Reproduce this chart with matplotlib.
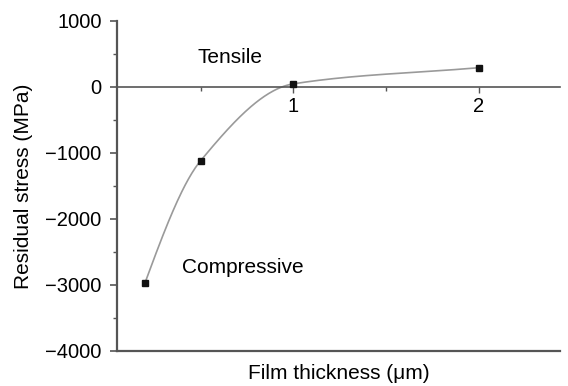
import numpy as np
import matplotlib.pyplot as plt
from matplotlib.ticker import MultipleLocator, FixedLocator

plt.rcParams['font.family'] = ['Liberation Sans', 'DejaVu Sans']

# film thickness (um) vs residual stress (MPa)
thickness = [0.2, 0.5, 1.0, 2.0]
stress = [-2970, -1120, 45, 290]


def end_slope(h0, h1, d0, d1):
    # three-point end slope, falling back to the secant if it flips sign
    s = ((2 * h0 + h1) * d0 - h0 * d1) / (h0 + h1)
    return s if s * d0 > 0 else d0


def smooth_curve(x, y, n=300):
    # cubic Hermite through the measured points, harmonic-mean tangents
    x = np.asarray(x, float)
    y = np.asarray(y, float)
    h = np.diff(x)
    d = np.diff(y) / h
    m = np.empty_like(x)
    m[1:-1] = 2 / (1 / d[:-1] + 1 / d[1:])
    m[0] = end_slope(h[0], h[1], d[0], d[1])
    m[-1] = end_slope(h[-1], h[-2], d[-1], d[-2])
    xs = np.linspace(x[0], x[-1], n)
    k = np.clip(np.searchsorted(x, xs) - 1, 0, len(x) - 2)
    t = (xs - x[k]) / h[k]
    h00 = 2 * t**3 - 3 * t**2 + 1
    h10 = t**3 - 2 * t**2 + t
    h01 = -2 * t**3 + 3 * t**2
    h11 = t**3 - t**2
    ys = h00 * y[k] + h10 * h[k] * m[k] + h01 * y[k + 1] + h11 * h[k] * m[k + 1]
    return xs, ys


fig = plt.figure(figsize=(5.68, 3.86), dpi=100)
ax = fig.add_axes([0.206, 0.091, 0.78, 0.855])

xs, ys = smooth_curve(thickness, stress)
ax.plot(xs, ys, color='#9a9a9a', lw=1.2, zorder=2)
ax.plot(thickness, stress, 's', color='#111111', ms=5, zorder=3)

ax.set_xlim(0.049, 2.44)
ax.set_ylim(-4000, 1000)

# x axis runs along zero stress, frame line at the bottom
ax.spines['top'].set_visible(False)
ax.spines['right'].set_visible(False)
ax.spines['bottom'].set_position(('data', 0))
ax.spines['bottom'].set_color('#555555')
ax.spines['left'].set_color('#555555')
ax.spines['left'].set_linewidth(1.6)
ax.spines['bottom'].set_linewidth(1.2)
ax.axhline(-4000, color='#555555', lw=1.6, clip_on=False, zorder=4)

ax.xaxis.set_major_locator(FixedLocator([1, 2]))
ax.xaxis.set_minor_locator(FixedLocator([0.5, 1.5]))
ax.tick_params(axis='x', which='major', direction='out', length=4, width=1,
               color='#555555', labelsize=14.5, pad=3)
ax.tick_params(axis='x', which='minor', direction='out', length=3, width=1,
               color='#555555')

ax.yaxis.set_major_locator(MultipleLocator(1000))
ax.yaxis.set_minor_locator(MultipleLocator(500))
ax.tick_params(axis='y', which='major', direction='out', length=5, width=1.2,
               color='#555555', labelsize=14.5, pad=6)
ax.tick_params(axis='y', which='minor', direction='out', length=3, width=1,
               color='#555555')
ax.yaxis.set_major_formatter(plt.FuncFormatter(
    lambda v, p: f'{int(v)}'.replace('-', '\u2212')))

ax.set_ylabel('Residual stress (MPa)', fontsize=15, labelpad=9)
ax.text(0.5, -0.07, 'Film thickness (\u03bcm)', transform=ax.transAxes,
        ha='center', va='center', fontsize=15)

ax.text(0.66, 450, 'Tensile', ha='center', va='center', fontsize=15)
ax.text(0.73, -2740, 'Compressive', ha='center', va='center', fontsize=15)

fig.savefig('out.png', dpi=100)
